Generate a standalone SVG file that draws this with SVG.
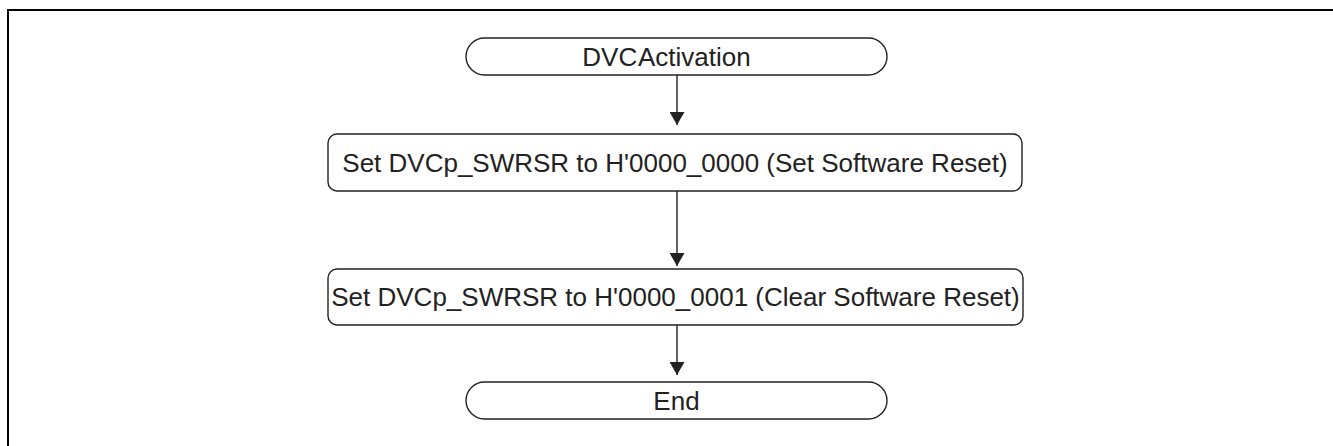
<svg xmlns="http://www.w3.org/2000/svg" width="1333" height="446" viewBox="0 0 1333 446">
<style>
.frame{fill:none;stroke:#000;stroke-width:2}
.node{fill:#fff;stroke:#222;stroke-width:1.4}
.lbl{font-family:"Liberation Sans",Arial,sans-serif;font-size:26px;fill:#222;text-anchor:middle}
.conn{stroke:#222;stroke-width:1.4;fill:none}
</style>
<defs>
<marker id="ah" markerWidth="15" markerHeight="13" refX="7.5" refY="13" orient="0" markerUnits="userSpaceOnUse" viewBox="0 0 15 13">
<path d="M0,0 L15,0 L7.5,13 Z" fill="#222"/>
</marker>
</defs>
<path class="frame" d="M8,446 L8,10 L1333,10"/>
<g id="start">
<rect class="node" x="466" y="38" width="421" height="37" rx="18.5" ry="18.5"/>
<text class="lbl" x="666.5" y="66" word-spacing="-5">DVC Activation</text>
</g>
<g id="step1">
<rect class="node" x="328" y="134" width="694" height="57" rx="9" ry="9"/>
<text class="lbl" x="675" y="172">Set DVCp_SWRSR to H'0000_0000 (Set Software Reset)</text>
</g>
<g id="step2">
<rect class="node" x="328" y="269" width="695" height="56" rx="9" ry="9"/>
<text class="lbl" x="675.5" y="306">Set DVCp_SWRSR to H'0000_0001 (Clear Software Reset)</text>
</g>
<g id="end">
<rect class="node" x="466" y="382" width="421" height="37" rx="18.5" ry="18.5"/>
<text class="lbl" x="676.5" y="410">End</text>
</g>
<g id="connectors">
<path class="conn" d="M677,75 L677,125" marker-end="url(#ah)"/>
<path class="conn" d="M677,191 L677,266" marker-end="url(#ah)"/>
<path class="conn" d="M677,325 L677,375" marker-end="url(#ah)"/>
</g>
</svg>
